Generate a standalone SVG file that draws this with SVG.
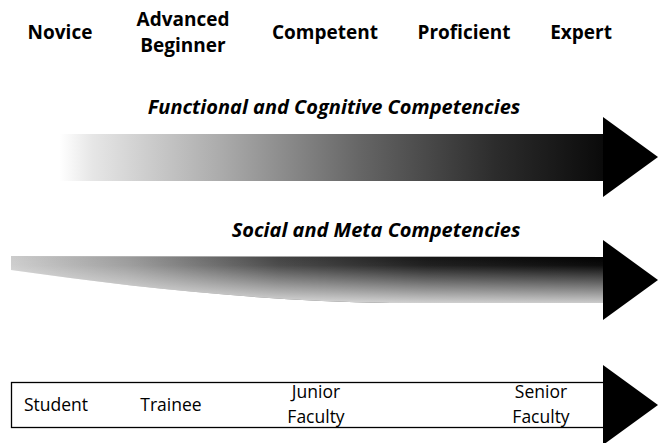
<svg xmlns="http://www.w3.org/2000/svg" width="658" height="443" viewBox="0 0 658 443">
  <style>
    .stage { font-family: "Open Sans", "Liberation Sans", sans-serif; font-weight: bold; font-size: 19px; fill: #000; text-anchor: middle; }
    .band { font-family: "Open Sans", "Liberation Sans", sans-serif; font-weight: bold; font-style: italic; font-size: 20px; fill: #000; text-anchor: middle; }
    .role { font-family: "Open Sans", "Liberation Sans", sans-serif; font-size: 17.5px; fill: #000; text-anchor: middle; }
    .head { fill: #000; }
  </style>
  <defs>
    <linearGradient id="fadeH" x1="60" y1="0" x2="604" y2="0" gradientUnits="userSpaceOnUse">
      <stop offset="0" stop-color="#ffffff"/>
      <stop offset="0.06" stop-color="#e6e6e6"/>
      <stop offset="0.3" stop-color="#aaaaaa"/>
      <stop offset="0.55" stop-color="#666666"/>
      <stop offset="0.8" stop-color="#2c2c2c"/>
      <stop offset="1" stop-color="#0a0a0a"/>
    </linearGradient>
    <linearGradient id="fadeH2" x1="11" y1="0" x2="604" y2="0" gradientUnits="userSpaceOnUse">
      <stop offset="0" stop-color="#cccccc"/>
      <stop offset="0.2" stop-color="#9a9a9a"/>
      <stop offset="0.45" stop-color="#444444"/>
      <stop offset="0.7" stop-color="#161616"/>
      <stop offset="1" stop-color="#000000"/>
    </linearGradient>
    <linearGradient id="fadeV" x1="0" y1="256" x2="0" y2="303" gradientUnits="userSpaceOnUse">
      <stop offset="0" stop-color="#ffffff" stop-opacity="0"/>
      <stop offset="0.2" stop-color="#ffffff" stop-opacity="0.05"/>
      <stop offset="1" stop-color="#ffffff" stop-opacity="0.8"/>
    </linearGradient>
  </defs>

  <!-- Dreyfus stages -->
  <g id="stages">
    <text class="stage" x="60" y="39">Novice</text>
    <text class="stage" x="183" y="26">Advanced</text>
    <text class="stage" x="183" y="52">Beginner</text>
    <text class="stage" x="325" y="39">Competent</text>
    <text class="stage" x="464" y="39">Proficient</text>
    <text class="stage" x="581" y="39">Expert</text>
  </g>

  <!-- Functional and cognitive band -->
  <g id="functional">
    <text class="band" x="334" y="114">Functional and Cognitive Competencies</text>
    <rect x="60" y="134" width="545" height="47" fill="url(#fadeH)"/>
    <polygon class="head" points="603,117 658,157 603,197"/>
  </g>

  <!-- Social and meta band -->
  <g id="social">
    <text class="band" x="376" y="237">Social and Meta Competencies</text>
    <path d="M11,256 L605,257 L605,303 L390,303 C260,301 130,287 11,270 Z" fill="url(#fadeH2)"/>
    <path d="M11,256 L605,257 L605,303 L390,303 C260,301 130,287 11,270 Z" fill="url(#fadeV)"/>
    <polygon class="head" points="603,240 658,280 603,320"/>
  </g>

  <!-- Career roles -->
  <g id="roles">
    <rect x="11.5" y="382.5" width="593" height="45" fill="#fff" stroke="#000" stroke-width="1.3"/>
    <polygon class="head" points="603,365 658,405 603,445"/>
    <text class="role" x="56" y="411">Student</text>
    <text class="role" x="171" y="411">Trainee</text>
    <text class="role" x="316" y="398">Junior</text>
    <text class="role" x="316" y="423">Faculty</text>
    <text class="role" x="541" y="398">Senior</text>
    <text class="role" x="541" y="423">Faculty</text>
  </g>
</svg>
